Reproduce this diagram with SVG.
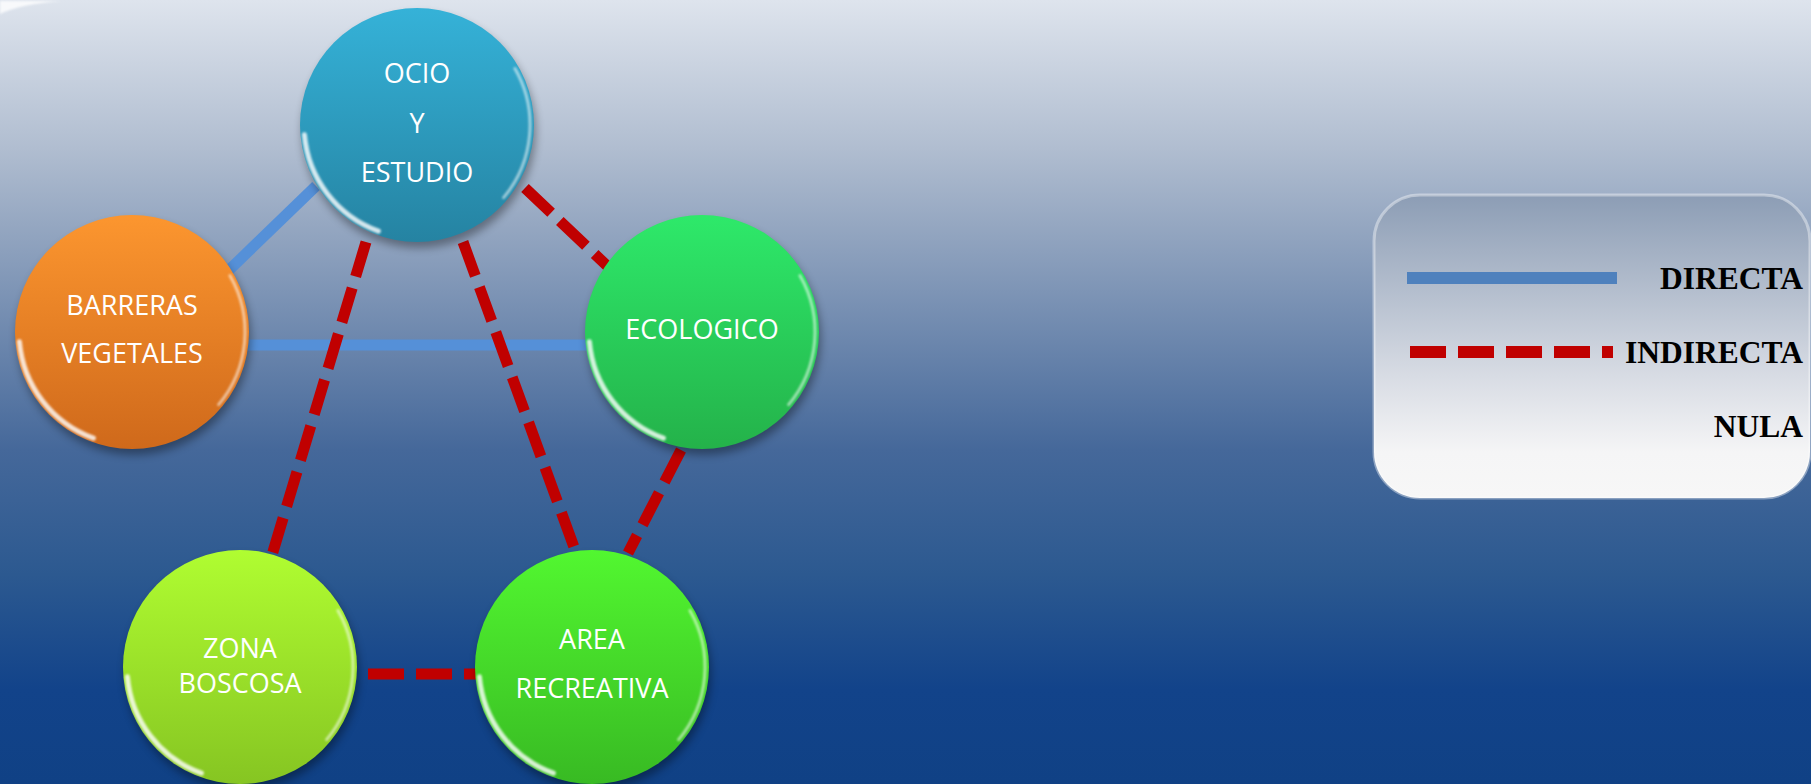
<svg xmlns="http://www.w3.org/2000/svg" width="1811" height="784" viewBox="0 0 1811 784">
<defs>
<linearGradient id="bg" x1="0" y1="0" x2="0" y2="1">
<stop offset="0" stop-color="#dee4ed"/>
<stop offset="0.19" stop-color="#b0bdd0"/>
<stop offset="0.287" stop-color="#95a7c1"/>
<stop offset="0.574" stop-color="#45689a"/>
<stop offset="0.733" stop-color="#2c5990"/>
<stop offset="0.88" stop-color="#12438a"/>
<stop offset="1" stop-color="#104185"/>
</linearGradient>
<linearGradient id="gOcio" x1="0" y1="0" x2="0" y2="1"><stop offset="0" stop-color="#35b2d8"/><stop offset="1" stop-color="#2583a2"/></linearGradient>
<linearGradient id="gBarr" x1="0" y1="0" x2="0" y2="1"><stop offset="0" stop-color="#fc962f"/><stop offset="1" stop-color="#cf691b"/></linearGradient>
<linearGradient id="gEco" x1="0" y1="0" x2="0" y2="1"><stop offset="0" stop-color="#2ee96a"/><stop offset="1" stop-color="#24b24a"/></linearGradient>
<linearGradient id="gZona" x1="0" y1="0" x2="0" y2="1"><stop offset="0" stop-color="#b0fd31"/><stop offset="1" stop-color="#86c522"/></linearGradient>
<linearGradient id="gArea" x1="0" y1="0" x2="0" y2="1"><stop offset="0" stop-color="#52f730"/><stop offset="1" stop-color="#38ba23"/></linearGradient>
<linearGradient id="gLeg" x1="0" y1="0" x2="0" y2="1">
<stop offset="0" stop-color="#8c9db5"/>
<stop offset="0.6" stop-color="#d8dce4"/>
<stop offset="0.85" stop-color="#f5f5f6"/>
<stop offset="1" stop-color="#f7f7f7"/>
</linearGradient>
<filter id="blur" x="-20%" y="-20%" width="140%" height="140%"><feGaussianBlur stdDeviation="4"/></filter>
<filter id="soft" x="-20%" y="-20%" width="140%" height="140%"><feGaussianBlur stdDeviation="1.2"/></filter>
<g id="rims">
<path d="M -112.6 9.8 A 113 113 0 0 0 -38.6 106.2" fill="none" stroke="#ffffff" stroke-width="5" stroke-linecap="round" opacity="0.8" filter="url(#soft)"/>
<path d="M 97.9 -56.5 A 113 113 0 0 1 86.6 72.6" fill="none" stroke="#ffffff" stroke-width="3" stroke-linecap="round" opacity="0.55" filter="url(#soft)"/>
</g>
</defs>
<style>
.lbl{font-family:"Open Sans","Liberation Sans",sans-serif;font-size:27px;fill:#ffffff;text-anchor:middle}
.leg{font-family:"Liberation Serif","Times New Roman",serif;font-size:31.5px;font-weight:bold;fill:#000000;text-anchor:end}
.direct{stroke:#5590d8;stroke-width:11;fill:none}
.indirect{stroke:#c00000;stroke-width:11;stroke-dasharray:36 12;fill:none}
.shadow{fill:#000000;opacity:0.35}
</style>
<rect x="0" y="0" width="1811" height="784" fill="url(#bg)"/>
<path d="M 0 14 Q 20 4 62 1 L 0 1 Z" fill="#ffffff" opacity="0.8" filter="url(#soft)"/>

<g id="connectors">
<line class="direct" x1="316" y1="186" x2="226" y2="273"/>
<line class="direct" x1="244" y1="345" x2="590" y2="345"/>
<line class="indirect" x1="525" y1="188" x2="622" y2="280"/>
<line class="indirect" x1="366" y1="242" x2="272" y2="555"/>
<line class="indirect" x1="463" y1="242" x2="575" y2="550"/>
<line class="indirect" x1="681" y1="450" x2="628" y2="553"/>
<line class="indirect" x1="368" y1="674" x2="478" y2="674"/>
</g>

<g id="node-ocio" transform="translate(417,125)">
<circle class="shadow" cx="2" cy="6" r="117" filter="url(#blur)"/>
<circle r="117" fill="url(#gOcio)"/>
<use href="#rims"/>
<text class="lbl" x="0" y="-42">OCIO</text>
<text class="lbl" x="0" y="8">Y</text>
<text class="lbl" x="0" y="57">ESTUDIO</text>
</g>

<g id="node-barreras" transform="translate(132,332)">
<circle class="shadow" cx="2" cy="6" r="117" filter="url(#blur)"/>
<circle r="117" fill="url(#gBarr)"/>
<use href="#rims"/>
<text class="lbl" x="0" y="-17">BARRERAS</text>
<text class="lbl" x="0" y="31">VEGETALES</text>
</g>

<g id="node-ecologico" transform="translate(702,332)">
<circle class="shadow" cx="2" cy="6" r="117" filter="url(#blur)"/>
<circle r="117" fill="url(#gEco)"/>
<use href="#rims"/>
<text class="lbl" x="0" y="7">ECOLOGICO</text>
</g>

<g id="node-zona" transform="translate(240,667)">
<circle class="shadow" cx="2" cy="6" r="117" filter="url(#blur)"/>
<circle r="117" fill="url(#gZona)"/>
<use href="#rims"/>
<text class="lbl" x="0" y="-9">ZONA</text>
<text class="lbl" x="0" y="26">BOSCOSA</text>
</g>

<g id="node-area" transform="translate(592,667)">
<circle class="shadow" cx="2" cy="6" r="117" filter="url(#blur)"/>
<circle r="117" fill="url(#gArea)"/>
<use href="#rims"/>
<text class="lbl" x="0" y="-18">AREA</text>
<text class="lbl" x="0" y="31">RECREATIVA</text>
</g>

<g id="legend">
<rect x="1374" y="195" width="436" height="303" rx="46" fill="url(#gLeg)" stroke="#ffffff" stroke-opacity="0.4" stroke-width="3"/>
<line x1="1407" y1="278" x2="1617" y2="278" stroke="#4f81bd" stroke-width="12"/>
<line x1="1410" y1="352" x2="1613" y2="352" stroke="#c00000" stroke-width="12" stroke-dasharray="36 12"/>
<text class="leg" x="1803" y="289">DIRECTA</text>
<text class="leg" x="1803" y="363">INDIRECTA</text>
<text class="leg" x="1803" y="437">NULA</text>
</g>
</svg>
